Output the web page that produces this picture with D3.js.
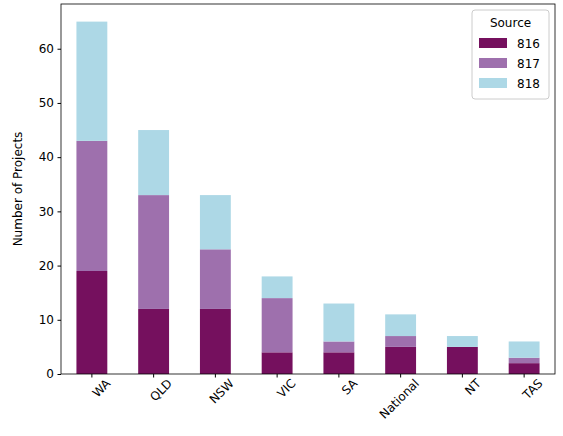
<!DOCTYPE html><html><head><meta charset="utf-8">
<script src="https://cdn.jsdelivr.net/npm/d3@7"></script>
<style>body{margin:0;background:#fff}text{font-family:"DejaVu Sans",sans-serif}</style></head><body>
<svg id="c" width="563" height="436"></svg>
<script>
const categories=["WA","QLD","NSW","VIC","SA","National","NT","TAS"];
const s816=[19,12,12,4,4,5,5,2];
const s817=[24,21,11,10,2,2,0,1];
const s818=[22,12,10,4,7,4,2,3];
const seriesNames=["816","817","818"];
const colors=["#75105e","#9e70ad","#add8e6"];
const yTicks=[0,10,20,30,40,50,60];
const data=categories.map((c,i)=>({cat:c,"816":s816[i],"817":s817[i],"818":s818[i]}));
const svg=d3.select("#c");
const L=61,R=555,T=4,B=374;
const x=d3.scaleBand().domain(categories).range([L,R]).paddingInner(0.5).paddingOuter(0.25);
const y=d3.scaleLinear().domain([0,68.25]).range([B,T]);
const stack=d3.stack().keys(seriesNames)(data);
svg.selectAll("g.s").data(stack).join("g").attr("fill",(d,i)=>colors[i])
 .selectAll("rect").data(d=>d).join("rect")
 .attr("x",d=>x(d.data.cat)).attr("width",x.bandwidth())
 .attr("y",d=>y(d[1])).attr("height",d=>y(d[0])-y(d[1]));
const ya=svg.append("g").attr("transform",`translate(${L},0)`).call(d3.axisLeft(y).tickValues(yTicks).tickSize(3.5).tickPadding(3.5));
const xa=svg.append("g").attr("transform",`translate(0,${B})`).call(d3.axisBottom(x).tickSize(3.5).tickPadding(3));
[ya,xa].forEach(a=>{a.select(".domain").remove();a.selectAll("text").attr("font-size",12).attr("fill","#000").attr("font-family","DejaVu Sans");a.selectAll("line").attr("stroke","#000");});
xa.selectAll("text").attr("text-anchor","end").attr("dx","-0.2em").attr("dy","0.5em").attr("transform",function(){return "rotate(-45)"}).each(function(){const t=d3.select(this);});
xa.selectAll(".tick text").attr("transform","translate(4,0) rotate(-45)").attr("x",6).attr("y",12);
svg.append("rect").attr("x",L).attr("y",T).attr("width",R-L).attr("height",B-T).attr("fill","none").attr("stroke","#000").attr("stroke-width",0.8);
svg.append("text").attr("transform",`translate(22,${(T+B)/2}) rotate(-90)`).attr("text-anchor","middle").attr("font-size",12).text("Number of Projects");
const lg=svg.append("g").attr("transform","translate(472,10)");
lg.append("rect").attr("width",77).attr("height",89).attr("rx",3).attr("fill","#fff").attr("stroke","#ccc");
lg.append("text").attr("x",38.5).attr("y",17).attr("text-anchor","middle").attr("font-size",12).text("Source");
seriesNames.forEach((n,i)=>{lg.append("rect").attr("x",7).attr("y",28+i*20).attr("width",28).attr("height",10).attr("fill",colors[i]);
lg.append("text").attr("x",45).attr("y",38+i*20).attr("font-size",12).text(n);});
</script></body></html>
